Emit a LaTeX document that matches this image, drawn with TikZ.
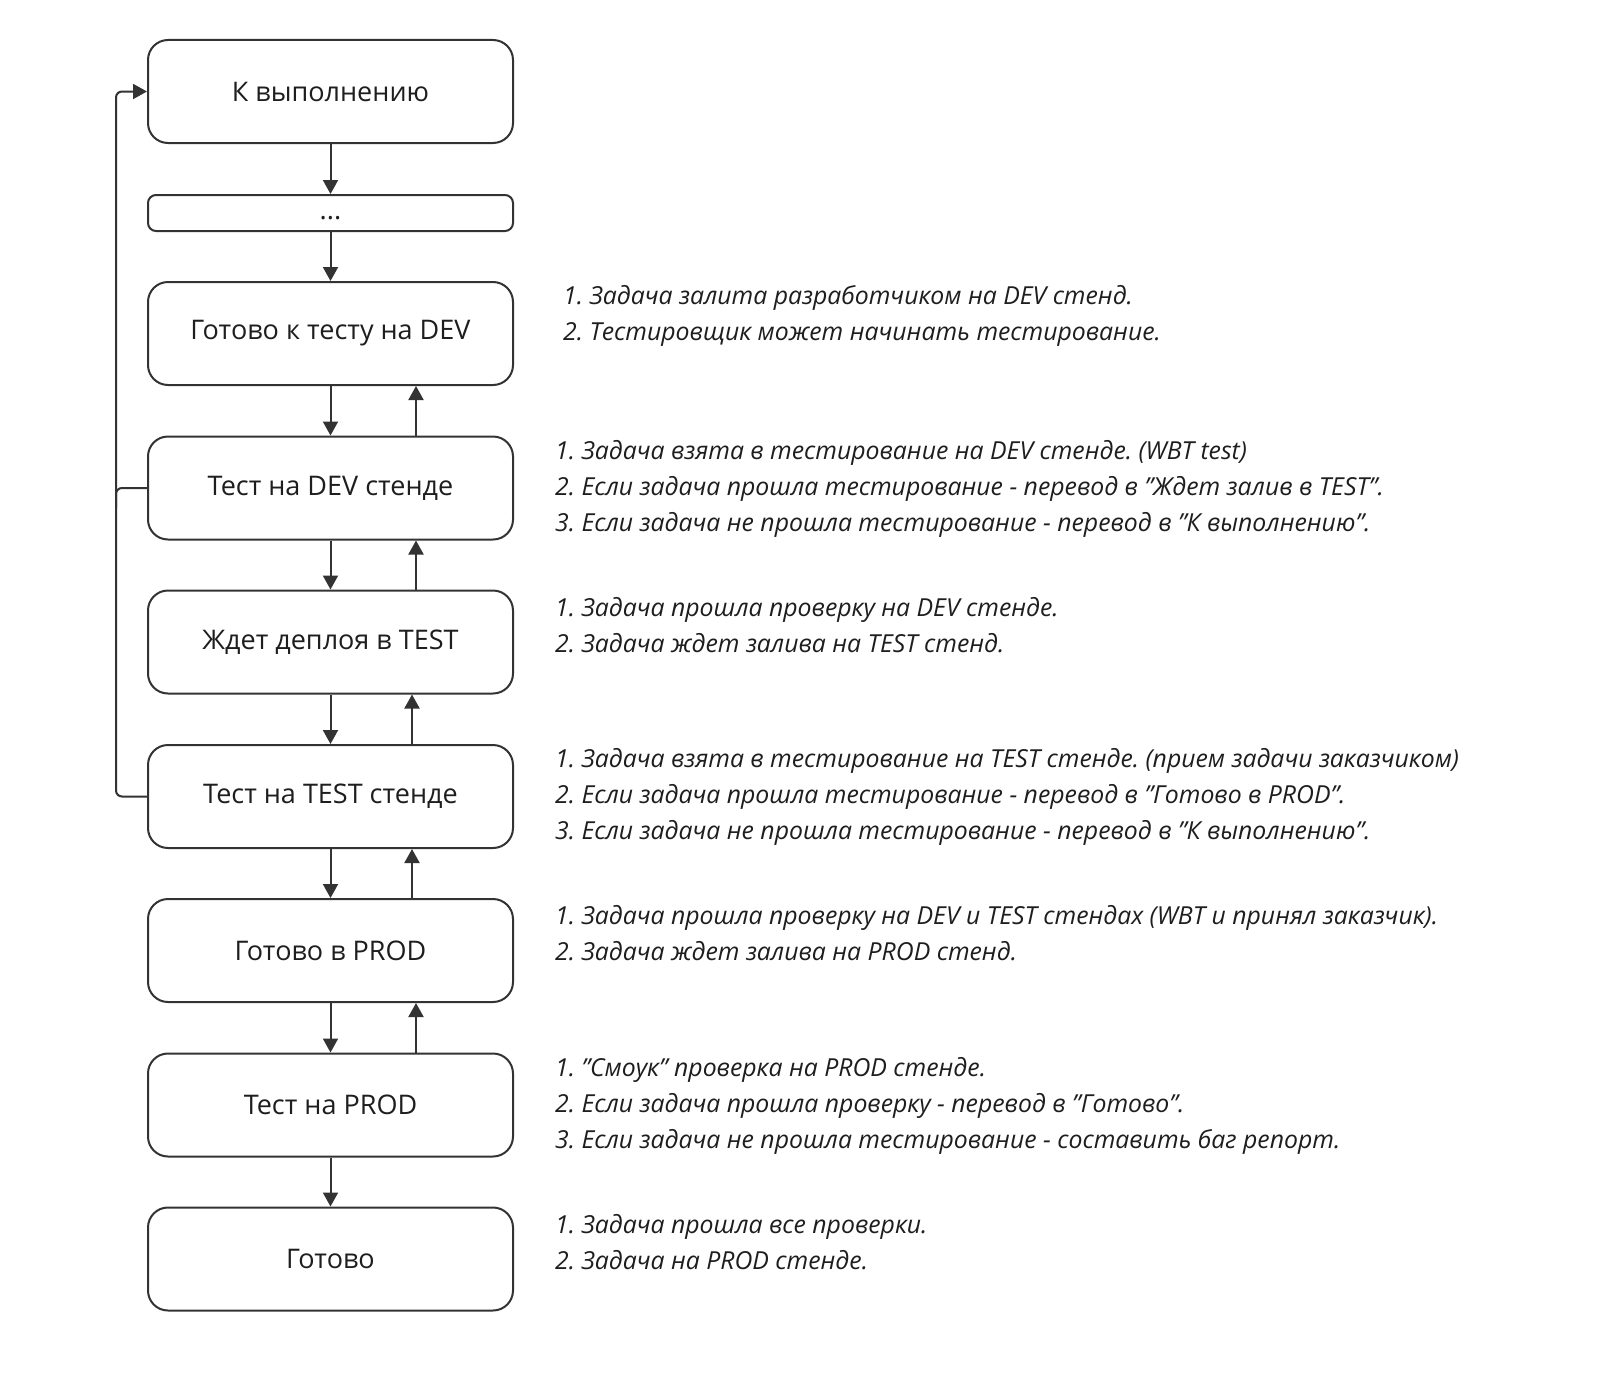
\documentclass[tikz,border=0pt]{standalone}
\usepackage{fontspec}
\setmainfont{Open Sans}
\usetikzlibrary{arrows.meta,calc}
\definecolor{ln}{HTML}{333333}
\definecolor{tx}{HTML}{1E1E1E}
\frenchspacing
\begin{document}
\begin{tikzpicture}[x=1pt,y=-1pt,
  box/.style={draw=ln,line width=2pt,rounded corners=20pt,minimum width=365pt,minimum height=103pt,inner sep=0pt,text=tx,font=\fontsize{27}{30}\selectfont},
  smallbox/.style={box,minimum height=36pt,rounded corners=8pt,text height=17pt,text depth=4pt},
  arr/.style={draw=ln,line width=2pt,-{Triangle[length=14pt,width=15pt]}},
  note/.style={anchor=west,align=left,text=tx,inner sep=0pt,font=\fontsize{24.8}{36}\selectfont\itshape}
]
\useasboundingbox (0,0) rectangle (1600,1389);
\fill[white] (0,0) rectangle (1600,1389);

\node[box] (k) at (330.5,91.5) {К выполнению};
\node[smallbox] (dots) at (330.5,213) {...};
\node[box] (rdev) at (330.5,333.5) {Готово к тесту на DEV};
\node[box] (tdev) at (330.5,488) {Тест на DEV стенде};
\node[box] (wtest) at (330.5,642) {Ждет деплоя в TEST};
\node[box] (ttest) at (330.5,796.5) {Тест на TEST стенде};
\node[box] (rprod) at (330.5,950.5) {Готово в PROD};
\node[box] (tprod) at (330.5,1105) {Тест на PROD};
\node[box] (done) at (330.5,1259) {Готово};

\draw[arr] (k.south) -- (dots.north);
\draw[arr] (dots.south) -- (rdev.north);
\draw[arr] (rdev.south) -- (tdev.north);
\draw[arr] ([xshift=85.5pt]tdev.north) -- ([xshift=85.5pt]rdev.south);
\draw[arr] (tdev.south) -- (wtest.north);
\draw[arr] ([xshift=85.5pt]wtest.north) -- ([xshift=85.5pt]tdev.south);
\draw[arr] (wtest.south) -- (ttest.north);
\draw[arr] ([xshift=81.5pt]ttest.north) -- ([xshift=81.5pt]wtest.south);
\draw[arr] (ttest.south) -- (rprod.north);
\draw[arr] ([xshift=81.5pt]rprod.north) -- ([xshift=81.5pt]ttest.south);
\draw[arr] (rprod.south) -- (tprod.north);
\draw[arr] ([xshift=85.5pt]tprod.north) -- ([xshift=85.5pt]rprod.south);
\draw[arr] (tprod.south) -- (done.north);

\coordinate (lx) at (116,0);
\draw[arr,rounded corners=6pt] (ttest.west) -- (ttest.west -| lx) -- (k.west -| lx) -- (k.west);
\draw[draw=ln,line width=2pt,rounded corners=6pt] (tdev.west) -- (tdev.west -| lx) -- ([yshift=-20pt]tdev.west -| lx);

\node[note] (n1) at (563,316) {1. Задача залита разработчиком на DEV стенд.\\2. Тестировщик может начинать тестирование.};
\node[note] (n2) at (555,489) {1. Задача взята в тестирование на DEV стенде. (WBT test)\\2. Если задача прошла тестирование - перевод в "Ждет залив в TEST".\\3. Если задача не прошла тестирование - перевод в "К выполнению".};
\node[note] (n3) at (555,625) {1. Задача прошла проверку на DEV стенде.\\2. Задача ждет залива на TEST стенд.};
\node[note] (n4) at (555,797) {1. Задача взята в тестирование на TEST стенде. (прием задачи заказчиком)\\2. Если задача прошла тестирование - перевод в "Готово в PROD".\\3. Если задача не прошла тестирование - перевод в "К выполнению".};
\node[note] (n5) at (555,933) {1. Задача прошла проверку на DEV и TEST стендах (WBT и принял заказчик).\\2. Задача ждет залива на PROD стенд.};
\node[note] (n6) at (555,1106) {1. "Смоук" проверка на PROD стенде.\\2. Если задача прошла проверку - перевод в "Готово".\\3. Если задача не прошла тестирование - составить баг репорт.};
\node[note] (n7) at (555,1242) {1. Задача прошла все проверки.\\2. Задача на PROD стенде.};
\end{tikzpicture}
\end{document}
